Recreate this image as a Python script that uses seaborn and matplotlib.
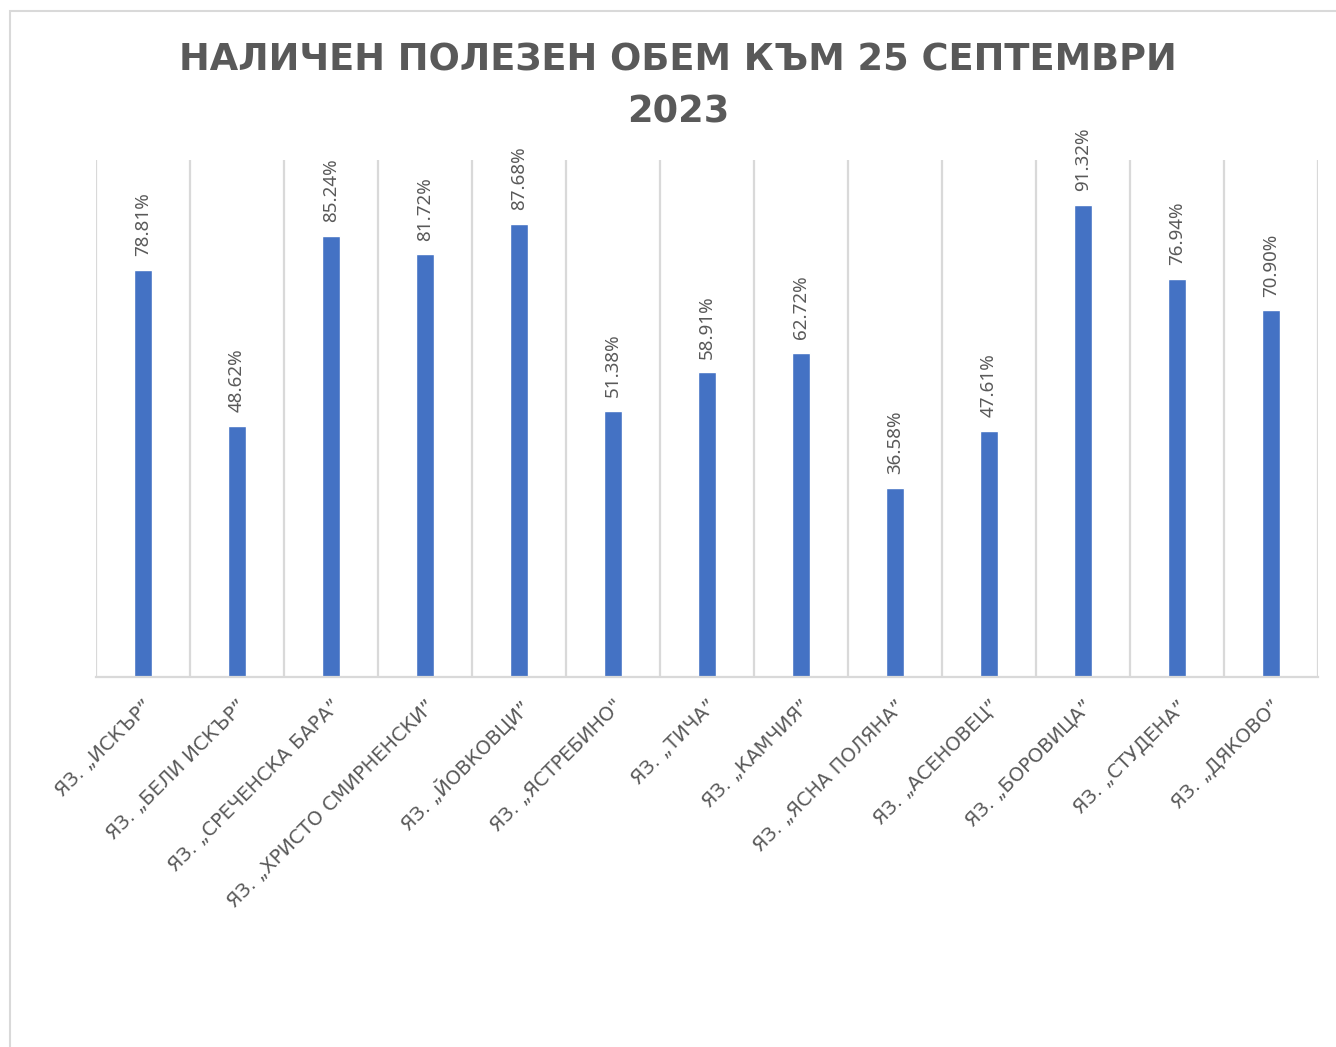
import matplotlib
matplotlib.use("Agg")
import matplotlib.pyplot as plt
import seaborn as sns
import pandas as pd
from matplotlib.patches import Rectangle

# Reservoir names and available useful volume (%) on 25 September 2023
reservoirs = [
    "ЯЗ. „ИСКЪР”", "ЯЗ. „БЕЛИ ИСКЪР”", "ЯЗ. „СРЕЧЕНСКА БАРА”",
    "ЯЗ. „ХРИСТО СМИРНЕНСКИ”", "ЯЗ. „ЙОВКОВЦИ”", "ЯЗ. „ЯСТРЕБИНО\"",
    "ЯЗ. „ТИЧА”", "ЯЗ. „КАМЧИЯ”", "ЯЗ. „ЯСНА ПОЛЯНА”", "ЯЗ. „АСЕНОВЕЦ”",
    "ЯЗ. „БОРОВИЦА”", "ЯЗ. „СТУДЕНА”", "ЯЗ. „ДЯКОВО”",
]
volume_pct = [78.81, 48.62, 85.24, 81.72, 87.68, 51.38, 58.91,
              62.72, 36.58, 47.61, 91.32, 76.94, 70.90]

title = "НАЛИЧЕН ПОЛЕЗЕН ОБЕМ КЪМ 25 СЕПТЕМВРИ\n2023"

df = pd.DataFrame({"reservoir": reservoirs, "volume": volume_pct})

sns.set_style("white")
plt.rcParams["font.family"] = ["Noto Sans", "DejaVu Sans"]

text_color = "#595959"
grid_color = "#D9D9D9"

fig = plt.figure(figsize=(13.36, 10.47), dpi=100)
ax = fig.add_axes([0.0719, 0.3534, 0.9146, 0.4938])

sns.barplot(data=df, x="reservoir", y="volume", color="#4472C4",
            width=0.185, saturation=1, ax=ax)

ax.set_xlim(-0.5, len(reservoirs) - 0.5)
ax.set_ylim(0, 100)
ax.set_xlabel("")
ax.set_ylabel("")
ax.set_yticks([])

# vertical gridlines between categories
ax.set_xticks([i - 0.5 for i in range(len(reservoirs) + 1)], minor=True)
ax.grid(True, axis="x", which="minor", color=grid_color, linewidth=1.6)
ax.grid(False, axis="x", which="major")
ax.tick_params(axis="x", which="both", length=0, pad=14)

for side in ["top", "left", "right"]:
    ax.spines[side].set_visible(False)
ax.spines["bottom"].set_color(grid_color)
ax.spines["bottom"].set_linewidth(1.6)

ax.set_xticks(range(len(reservoirs)))
ax.set_xticklabels(reservoirs, rotation=45, ha="right",
                   rotation_mode="anchor", fontsize=14, color=text_color,
                   family="DejaVu Sans")

ax.bar_label(ax.containers[0], labels=[f"{v:.2f}%" for v in volume_pct],
             rotation=90, padding=10, fontsize=13.5, color=text_color)

fig.text(0.5075, 0.960, title, ha="center", va="top", fontsize=26.5,
         fontweight="bold", color=text_color, linespacing=1.5,
         family="DejaVu Sans")

# outer chart frame
fig.patches.append(Rectangle((10 / 1336, -0.05), 1.2, 1 - 11 / 1047 + 0.05,
                             transform=fig.transFigure, fill=False,
                             edgecolor=grid_color, linewidth=1.5))

fig.savefig("out.png", dpi=100)
